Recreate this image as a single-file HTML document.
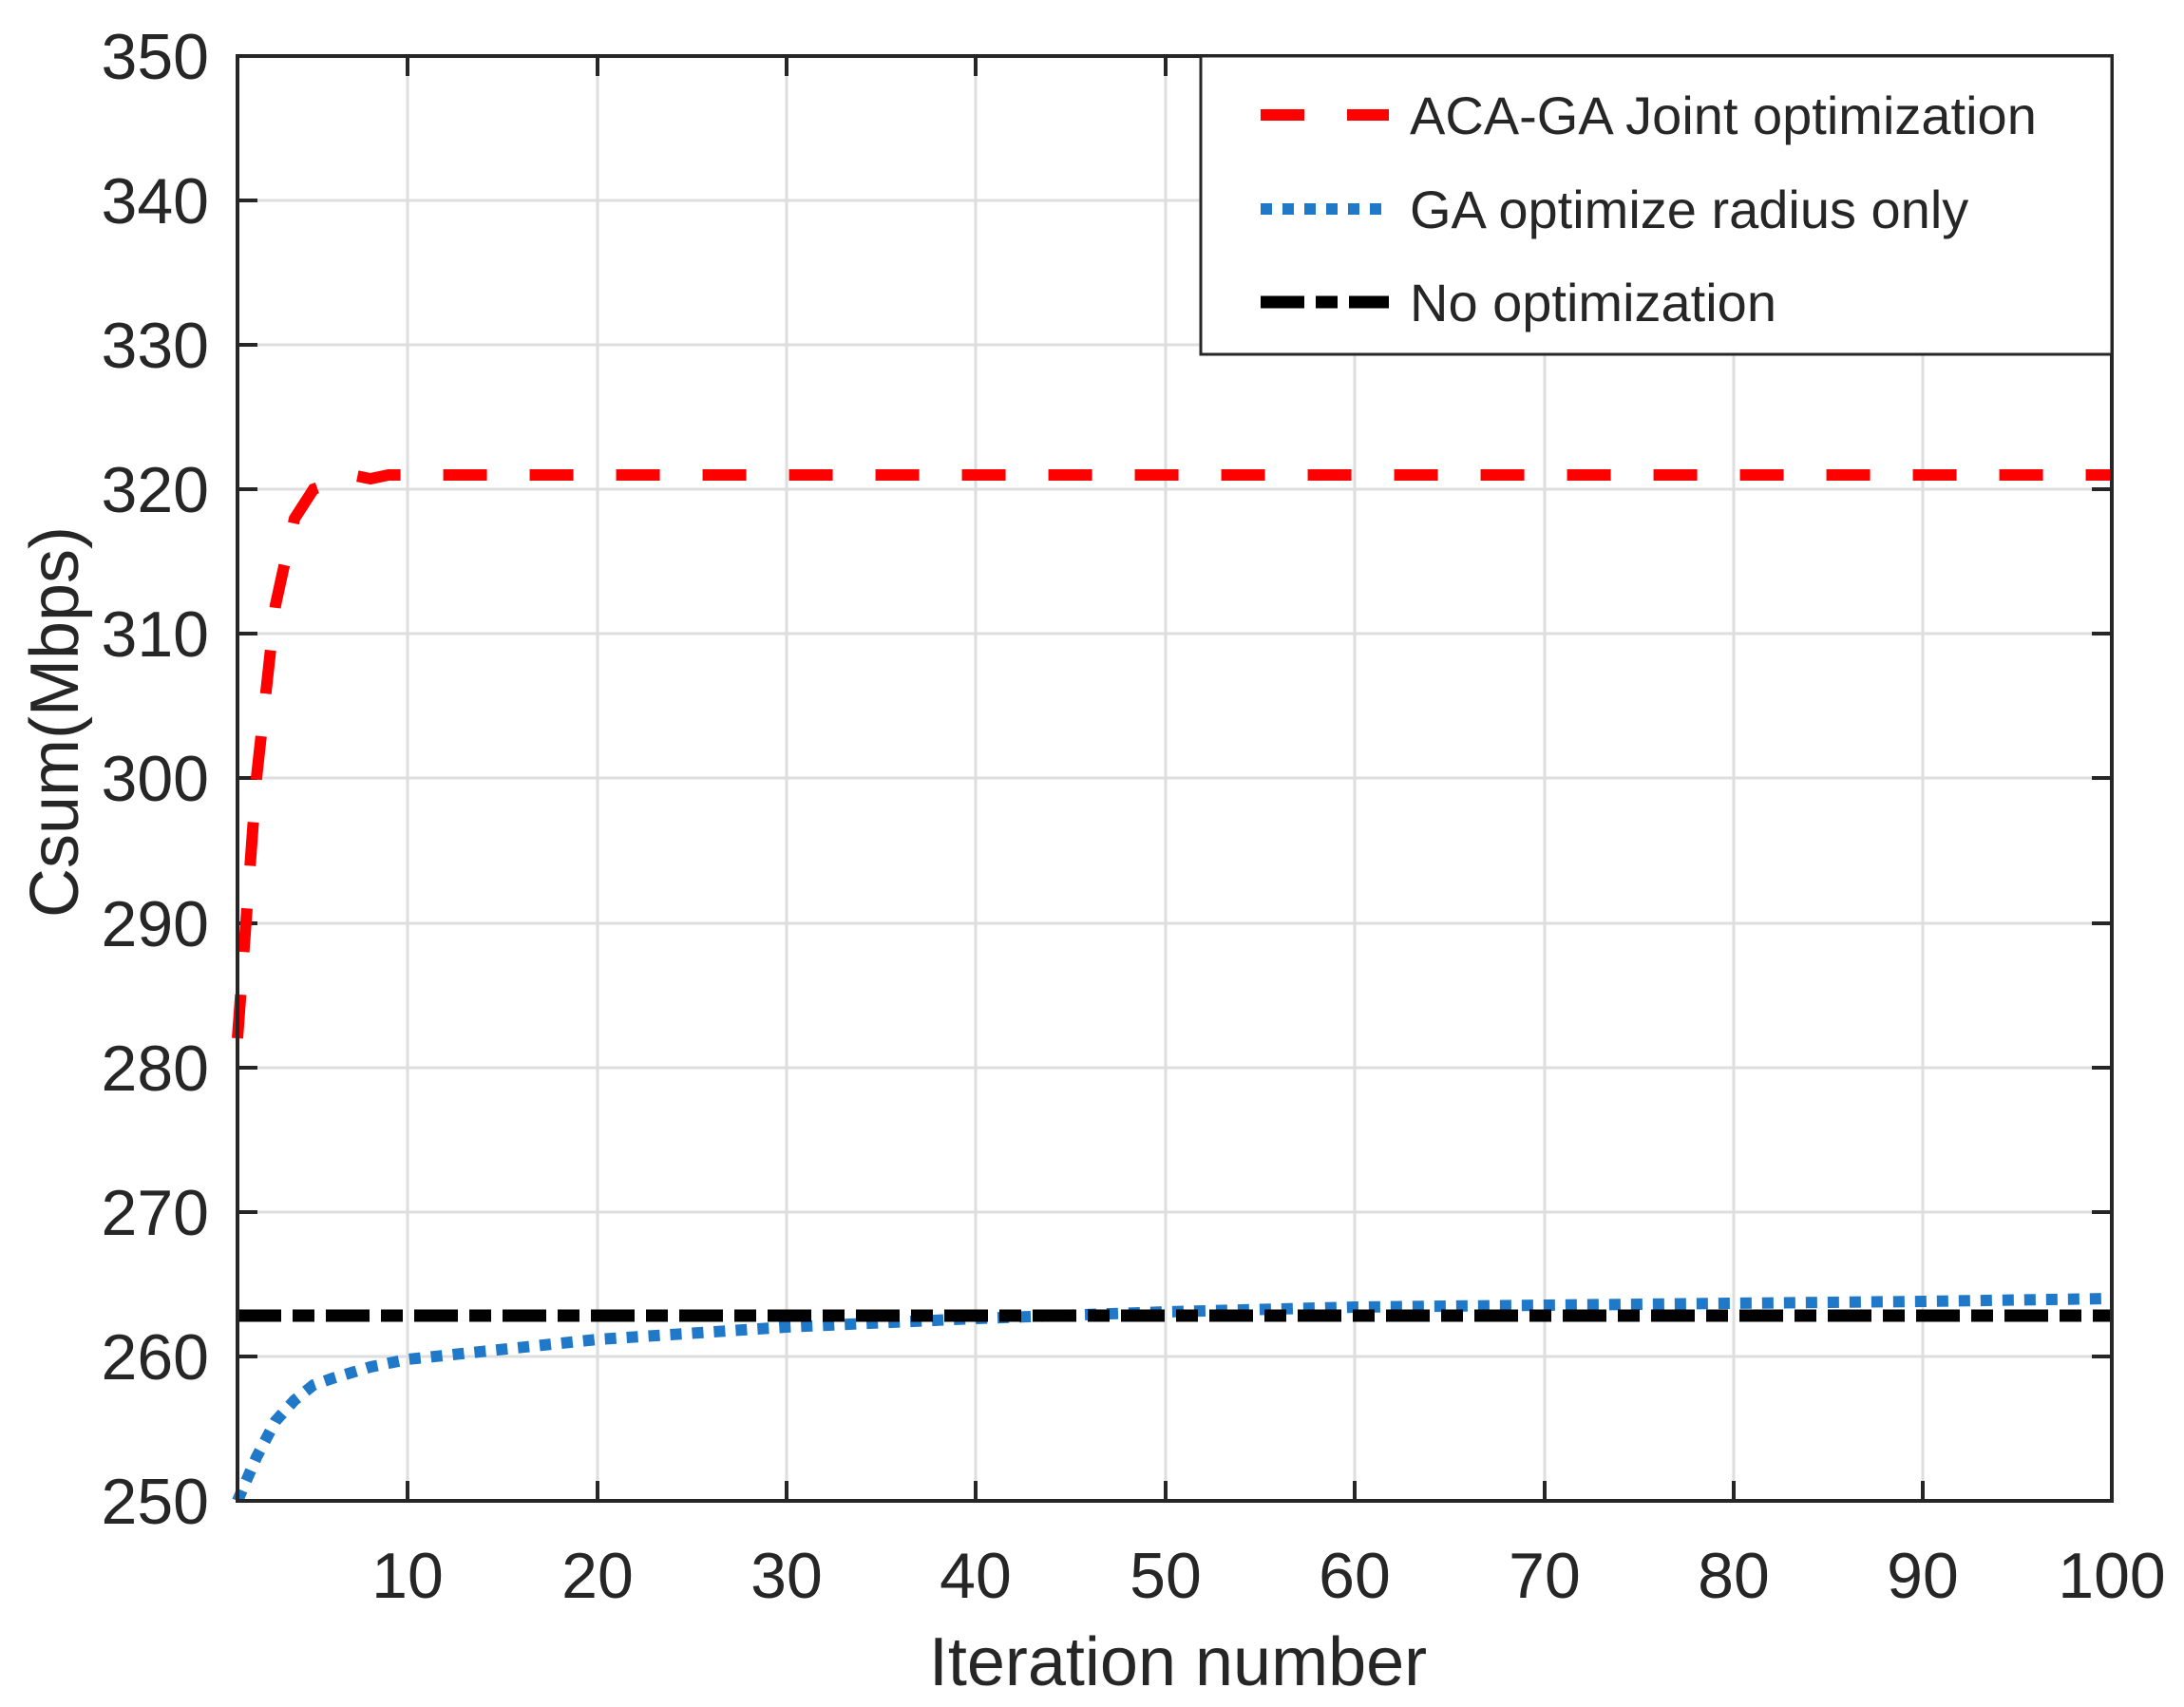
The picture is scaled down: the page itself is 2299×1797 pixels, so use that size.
<!DOCTYPE html>
<html><head><meta charset="utf-8"><style>
html,body{margin:0;padding:0;background:#fff;}
svg{display:block;}
text{font-family:"Liberation Sans",Arial,sans-serif;fill:#262626;}
</style></head><body>
<svg width="2299" height="1797" viewBox="0 0 2299 1797" xmlns="http://www.w3.org/2000/svg">
<rect width="2299" height="1797" fill="#fff"/>
<g stroke="#dedede" stroke-width="3">
<line x1="429" y1="59" x2="429" y2="1580"/><line x1="629" y1="59" x2="629" y2="1580"/>
<line x1="828" y1="59" x2="828" y2="1580"/><line x1="1027" y1="59" x2="1027" y2="1580"/>
<line x1="1227" y1="59" x2="1227" y2="1580"/><line x1="1426" y1="59" x2="1426" y2="1580"/>
<line x1="1626" y1="59" x2="1626" y2="1580"/><line x1="1825" y1="59" x2="1825" y2="1580"/>
<line x1="2024" y1="59" x2="2024" y2="1580"/>
<line x1="250" y1="211" x2="2223" y2="211"/><line x1="250" y1="363" x2="2223" y2="363"/>
<line x1="250" y1="515" x2="2223" y2="515"/><line x1="250" y1="667" x2="2223" y2="667"/>
<line x1="250" y1="819" x2="2223" y2="819"/><line x1="250" y1="972" x2="2223" y2="972"/>
<line x1="250" y1="1124" x2="2223" y2="1124"/><line x1="250" y1="1276" x2="2223" y2="1276"/>
<line x1="250" y1="1428" x2="2223" y2="1428"/>
</g>
<g stroke="#262626" stroke-width="4">
<path d="M429 1580v-21M629 1580v-21M828 1580v-21M1027 1580v-21M1227 1580v-21M1426 1580v-21M1626 1580v-21M1825 1580v-21M2024 1580v-21"/>
<path d="M429 59v21M629 59v21M828 59v21M1027 59v21M1227 59v21M1426 59v21M1626 59v21M1825 59v21M2024 59v21"/>
<path d="M250 211h21M250 363h21M250 515h21M250 667h21M250 819h21M250 972h21M250 1124h21M250 1276h21M250 1428h21"/>
<path d="M2223 211h-21M2223 363h-21M2223 515h-21M2223 667h-21M2223 819h-21M2223 972h-21M2223 1124h-21M2223 1276h-21M2223 1428h-21"/>
</g>
<polyline fill="none" stroke="#ff0000" stroke-width="12" stroke-dasharray="46 45" points="250,1093 270,819 290,637 310,546 330,515 350,508 370,500 390,504 409,500 2223,500"/>
<polyline fill="none" stroke="#1f78c8" stroke-width="12" stroke-dasharray="12 11" points="250,1580 270,1534 290,1496 310,1474 330,1458 350,1451 390,1439 429,1431 629,1410 828,1397 1027,1388 1227,1381 1426,1376 1626,1374 1825,1372 2024,1370 2223,1367"/>
<line x1="250" y1="1385" x2="2223" y2="1385" stroke="#000" stroke-width="13" stroke-dasharray="46 12 23 12"/>
<rect x="250" y="59" width="1973" height="1521" fill="none" stroke="#262626" stroke-width="4"/>
<g font-size="68" text-anchor="middle">
<text x="429" y="1682">10</text><text x="629" y="1682">20</text><text x="828" y="1682">30</text>
<text x="1027" y="1682">40</text><text x="1227" y="1682">50</text><text x="1426" y="1682">60</text>
<text x="1626" y="1682">70</text><text x="1825" y="1682">80</text><text x="2024" y="1682">90</text>
<text x="2223" y="1682">100</text>
</g>
<g font-size="68" text-anchor="end">
<text x="220" y="83">350</text><text x="220" y="235">340</text><text x="220" y="387">330</text>
<text x="220" y="539">320</text><text x="220" y="691">310</text><text x="220" y="843">300</text>
<text x="220" y="996">290</text><text x="220" y="1148">280</text><text x="220" y="1300">270</text>
<text x="220" y="1452">260</text><text x="220" y="1604">250</text>
</g>
<text x="1240" y="1774" font-size="72" text-anchor="middle">Iteration number</text>
<text transform="translate(82,760) rotate(-90)" font-size="72" text-anchor="middle">Csum(Mbps)</text>
<rect x="1264" y="59" width="959" height="314" fill="#fff" stroke="#262626" stroke-width="3"/>
<line x1="1327" y1="121" x2="1462" y2="121" stroke="#ff0000" stroke-width="12" stroke-dasharray="46 45"/>
<line x1="1327" y1="220" x2="1462" y2="220" stroke="#1f78c8" stroke-width="12" stroke-dasharray="12 11"/>
<line x1="1327" y1="318" x2="1462" y2="318" stroke="#000" stroke-width="13" stroke-dasharray="46 12 23 12"/>
<g font-size="56">
<text x="1484" y="141">ACA-GA Joint optimization</text>
<text x="1484" y="240">GA optimize radius only</text>
<text x="1484" y="338">No optimization</text>
</g>
</svg>
</body></html>
